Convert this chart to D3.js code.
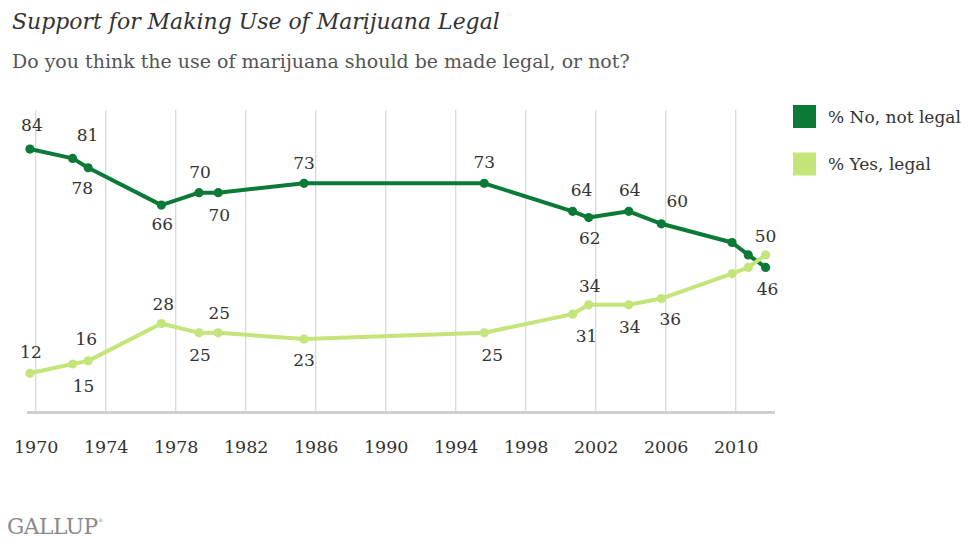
<!DOCTYPE html>
<html><head><meta charset="utf-8">
<script src="https://cdn.jsdelivr.net/npm/d3@7"></script>
<style>body{margin:0;background:#fff;} svg{display:block;}</style>
</head><body><svg id="c" width="974" height="540"></svg>
<script>
// ---- data ----
const pollYears = [1969.67, 1972.11, 1973.0, 1977.18, 1979.33, 1980.43, 1985.33, 1995.63, 2000.68, 2001.6, 2003.89, 2005.75, 2009.79, 2010.72, 2011.71];
const noLegal  = [84, 81, 78, 66, 70, 70, 73, 73, 64, 62, 64, 60, 54, 50, 46];
const yesLegal = [12, 15, 16, 28, 25, 25, 23, 25, 31, 34, 34, 36, 44, 46, 50];
const tickYears = [1970, 1974, 1978, 1982, 1986, 1990, 1994, 1998, 2002, 2006, 2010];
const seriesNames = ["% No, not legal", "% Yes, legal"];
const titleText = "Support for Making Use of Marijuana Legal";
const subtitleText = "Do you think the use of marijuana should be made legal, or not?";

// ---- style / layout ----
const FONT = "'DejaVu Serif', 'Liberation Serif', serif";
const darkGreen = "#0b7a36", lightGreen = "#c4e57a";
const svg = d3.select("#c");
const x = d3.scaleLinear().domain([1970, 2010]).range([35.7, 735.7]);
const y = d3.scaleLinear().domain([0, 100]).range([410.7, 99.2]);
const gridTop = 110, baseY = 412.5;

function fitText(sel, target) {
  const w = sel.node().getComputedTextLength();
  const fs = parseFloat(sel.attr("font-size"));
  sel.attr("font-size", (fs * target / w).toFixed(2));
}

// titles
const t = svg.append("text").attr("x", 12).attr("y", 29).attr("font-family", FONT)
  .attr("font-style", "italic").attr("font-size", 20).attr("fill", "#333").text(titleText);
fitText(t, 488);
const st = svg.append("text").attr("x", 12).attr("y", 68).attr("font-family", FONT)
  .attr("font-size", 17).attr("fill", "#555").text(subtitleText);
fitText(st, 618);

// grid lines
svg.append("g").selectAll("line").data(tickYears).join("line")
  .attr("x1", d => x(d)).attr("x2", d => x(d))
  .attr("y1", gridTop).attr("y2", baseY)
  .attr("stroke", "#d9d9d9").attr("stroke-width", 1.3);

// baseline
svg.append("line").attr("x1", 27).attr("x2", 775).attr("y1", baseY).attr("y2", baseY)
  .attr("stroke", "#cfcfcf").attr("stroke-width", 3);

// x axis labels via d3 axis
const axisG = svg.append("g").attr("transform", `translate(0,${baseY})`)
  .call(d3.axisBottom(x).tickValues(tickYears).tickFormat(d3.format("d")).tickSize(0).tickPadding(0));
axisG.select(".domain").remove();
axisG.selectAll("text").attr("font-family", FONT).attr("font-size", 17.5).attr("fill", "#333")
  .attr("dy", "0").attr("y", 40);

// series
const series = [
  { name: seriesNames[0], values: noLegal, color: darkGreen,
    offs: [[2,-24],[15,-24],[-6,20],[1,19],[1,-21],[1,22],[0,-20],[0,-21],[9,-21],[1,20],[1,-21],[16,-23],null,null,[2,21]] },
  { name: seriesNames[1], values: yesLegal, color: lightGreen,
    offs: [[1,-21],[11,22],[-2,-22],[2,-20],[1,22],[1,-20],[0,21],[8,22],[14,22],[1,-19],[1,22],[9,20],null,null,[0,-19]] }
];
const line = d3.line().x(d => x(d.yr)).y(d => y(d.v));
series.forEach(s => {
  const pts = pollYears.map((yr, i) => ({ yr, v: s.values[i], i }));
  const g = svg.append("g");
  g.append("path").datum(pts).attr("d", line).attr("fill", "none")
    .attr("stroke", s.color).attr("stroke-width", 4).attr("stroke-linejoin", "round");
  g.selectAll("circle").data(pts).join("circle")
    .attr("cx", d => x(d.yr)).attr("cy", d => y(d.v)).attr("r", 4.6).attr("fill", s.color);
  s.pts = pts;
});
series.forEach(s => {
  svg.append("g").selectAll("text").data(s.pts.filter(d => s.offs[d.i])).join("text")
    .attr("x", d => x(d.yr) + s.offs[d.i][0])
    .attr("y", d => y(d.v) + s.offs[d.i][1])
    .attr("dy", "0.36em").attr("text-anchor", "middle")
    .attr("font-family", FONT).attr("font-size", 17).attr("fill", "#333")
    .text(d => d.v);
});

// legend
const lg = svg.append("g").selectAll("g").data(series).join("g")
  .attr("transform", (d, i) => `translate(793,${105 + i * 47.5})`);
lg.append("rect").attr("width", 23).attr("height", 23).attr("fill", d => d.color);
lg.append("text").attr("x", 35).attr("y", 11.5).attr("dy", "0.36em")
  .attr("font-family", FONT).attr("font-size", 17).attr("fill", "#333")
  .text(d => d.name);

// Gallup mark
const gl = svg.append("text").attr("x", 7).attr("y", 534).attr("font-family", FONT)
  .attr("font-size", 18).attr("fill", "#8a8a8a").attr("letter-spacing", -0.5).text("GALLUP");
fitText(gl, 90);
svg.append("text").attr("x", 98).attr("y", 522).attr("font-family", FONT)
  .attr("font-size", 5).attr("fill", "#8a8a8a").text("®");
</script></body></html>
